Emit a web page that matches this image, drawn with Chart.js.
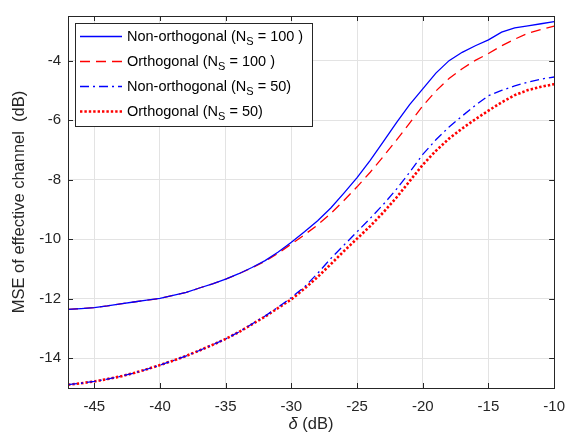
<!DOCTYPE html>
<html>
<head>
<meta charset="utf-8">
<script src="https://cdn.jsdelivr.net/npm/chart.js@4.4.1/dist/chart.umd.min.js"></script>
<style>
  html, body { margin: 0; padding: 0; background: #fff; }
  #wrap { width: 575px; height: 434px; }
</style>
</head>
<body>
<div id="wrap"><canvas id="mseChart" width="575" height="434"></canvas></div>
<script>
// delta (dB) sample points
const deltaDb = [-47, -46, -45, -44, -43, -42, -41, -40, -39, -38, -37, -36, -35, -34, -33, -32, -31, -30, -29,
                 -28, -27, -26, -25, -24, -23, -22, -21, -20, -19, -18, -17, -16, -15, -14, -13, -12, -11, -10];

const nonOrth100 = [-12.36, -12.33, -12.30, -12.24, -12.17, -12.11, -12.05, -11.99, -11.89, -11.79, -11.64, -11.50,
                    -11.34, -11.16, -10.95, -10.72, -10.43, -10.10, -9.75, -9.38, -8.95, -8.45, -7.93, -7.35,
                    -6.72, -6.08, -5.48, -4.95, -4.42, -4.00, -3.72, -3.50, -3.30, -3.04, -2.90, -2.83, -2.76, -2.69];

const orth100 = [-12.36, -12.33, -12.30, -12.24, -12.17, -12.11, -12.05, -11.99, -11.89, -11.79, -11.64, -11.50,
                 -11.34, -11.16, -10.96, -10.74, -10.47, -10.16, -9.85, -9.52, -9.14, -8.70, -8.24, -7.75,
                 -7.22, -6.67, -6.10, -5.52, -5.02, -4.60, -4.27, -3.99, -3.76, -3.50, -3.28, -3.08, -2.95, -2.84];

const nonOrth50 = [-14.89, -14.84, -14.78, -14.70, -14.61, -14.50, -14.37, -14.23, -14.08, -13.92, -13.74, -13.55,
                   -13.35, -13.12, -12.85, -12.58, -12.28, -11.96, -11.60, -11.15, -10.65, -10.20, -9.75, -9.30,
                   -8.83, -8.32, -7.75, -7.15, -6.66, -6.23, -5.86, -5.50, -5.18, -5.00, -4.85, -4.72, -4.62, -4.55];

const orth50 = [-14.89, -14.84, -14.78, -14.70, -14.61, -14.50, -14.37, -14.23, -14.08, -13.92, -13.74, -13.55,
                -13.35, -13.12, -12.86, -12.60, -12.31, -12.02, -11.66, -11.27, -10.84, -10.40, -9.98, -9.56,
                -9.10, -8.60, -8.05, -7.50, -7.03, -6.62, -6.28, -5.97, -5.68, -5.40, -5.16, -4.99, -4.88, -4.79];

const seriesLabels = ['Non-orthogonal (N_S = 100 )', 'Orthogonal (N_S = 100 )',
                      'Non-orthogonal (N_S = 50)', 'Orthogonal (N_S = 50)'];

const xTicks = [-45, -40, -35, -30, -25, -20, -15, -10];
const yTicks = [-14, -12, -10, -8, -6, -4];

const AXIS_COLOR = '#262626';
const FONT = '"Liberation Sans", Arial, Helvetica, sans-serif';

function toPoints(ys) {
    return deltaDb.map((x, i) => ({ x: x, y: ys[i] }));
}

// box, inward ticks, x title with italic delta, legend with subscripts
const matlabLook = {
    id: 'matlabLook',
    afterDraw(chart) {
        const ctx = chart.ctx;
        const { left, right, top, bottom } = chart.chartArea;
        const xs = chart.scales.x, ys = chart.scales.y;
        ctx.save();
        ctx.strokeStyle = AXIS_COLOR;
        ctx.lineWidth = 1;
        ctx.strokeRect(Math.round(left) + 0.5, Math.round(top) + 0.5,
                       Math.round(right - left), Math.round(bottom - top));
        const tl = 5;
        ctx.beginPath();
        xTicks.forEach(t => {
            const px = Math.round(xs.getPixelForValue(t)) + 0.5;
            ctx.moveTo(px, bottom); ctx.lineTo(px, bottom - tl);
            ctx.moveTo(px, top); ctx.lineTo(px, top + tl);
        });
        yTicks.forEach(t => {
            const py = Math.round(ys.getPixelForValue(t)) + 0.5;
            ctx.moveTo(left, py); ctx.lineTo(left + tl, py);
            ctx.moveTo(right, py); ctx.lineTo(right - tl, py);
        });
        ctx.stroke();

        // x axis title
        ctx.fillStyle = AXIS_COLOR;
        ctx.textBaseline = 'middle';
        ctx.textAlign = 'left';
        const cx = (left + right) / 2, ty = 424;
        ctx.font = 'italic 16.5px ' + FONT;
        const w1 = ctx.measureText('\u03b4').width;
        ctx.font = '16.5px ' + FONT;
        const w2 = ctx.measureText(' (dB)').width;
        const sx = cx - (w1 + w2) / 2;
        ctx.font = 'italic 16.5px ' + FONT;
        ctx.fillText('\u03b4', sx, ty);
        ctx.font = '16.5px ' + FONT;
        ctx.fillText(' (dB)', sx + w1, ty);

        // legend
        const lx = 75.5, ly = 23.5, lw = 237, lh = 103;
        ctx.fillStyle = '#fff';
        ctx.fillRect(lx, ly, lw, lh);
        ctx.strokeStyle = AXIS_COLOR;
        ctx.strokeRect(lx, ly, lw, lh);
        const rowY = [36.5, 61.5, 86.5, 111.5];
        chart.data.datasets.forEach((ds, i) => {
            const y = rowY[i];
            ctx.save();
            ctx.strokeStyle = ds.borderColor;
            ctx.lineWidth = ds.borderWidth;
            ctx.setLineDash(ds.borderDash || []);
            ctx.beginPath();
            ctx.moveTo(80, y); ctx.lineTo(122, y);
            ctx.stroke();
            ctx.restore();
            const parts = seriesLabels[i].split('_S');
            ctx.fillStyle = '#000';
            ctx.font = '14.5px ' + FONT;
            ctx.fillText(parts[0], 127, y);
            let px = 127 + ctx.measureText(parts[0]).width;
            ctx.font = '11px ' + FONT;
            ctx.fillText('S', px, y + 5);
            px += ctx.measureText('S').width;
            ctx.font = '14.5px ' + FONT;
            ctx.fillText(parts[1], px, y);
        });
        ctx.restore();
    }
};

new Chart(document.getElementById('mseChart'), {
    type: 'line',
    data: {
        datasets: [
            { label: seriesLabels[0], data: toPoints(nonOrth100), borderColor: '#0000ff', borderWidth: 1.3, borderDash: [] },
            { label: seriesLabels[1], data: toPoints(orth100), borderColor: '#ff0000', borderWidth: 1.3, borderDash: [10, 6] },
            { label: seriesLabels[2], data: toPoints(nonOrth50), borderColor: '#0000ff', borderWidth: 1.3, borderDash: [9, 4, 2, 4] },
            { label: seriesLabels[3], data: toPoints(orth50), borderColor: '#ff0000', borderWidth: 2.6, borderDash: [2.4, 2] }
        ]
    },
    options: {
        responsive: false,
        animation: false,
        elements: { point: { radius: 0 }, line: { tension: 0, fill: false } },
        layout: { padding: { left: 0, top: 9.5, right: 19, bottom: 0 } },
        plugins: { legend: { display: false }, tooltip: { enabled: false } },
        scales: {
            x: {
                type: 'linear',
                min: -47, max: -10,
                afterBuildTicks: (s) => { s.ticks = xTicks.map(v => ({ value: v })); },
                afterFit: (s) => { s.height = 46; },
                grid: { color: '#e3e3e3', drawTicks: false },
                border: { display: false },
                ticks: { color: AXIS_COLOR, font: { family: FONT, size: 15 }, padding: 10, maxRotation: 0 }
            },
            y: {
                type: 'linear',
                min: -15, max: -2.5,
                afterBuildTicks: (s) => { s.ticks = yTicks.map(v => ({ value: v })); },
                afterFit: (s) => { s.width = 68; },
                grid: { color: '#e3e3e3', drawTicks: false },
                border: { display: false },
                ticks: { color: AXIS_COLOR, font: { family: FONT, size: 15 }, padding: 7 },
                title: {
                    display: true,
                    text: 'MSE of effective channel  (dB)',
                    color: AXIS_COLOR,
                    font: { family: FONT, size: 16.5 },
                    padding: { top: 10, bottom: 0 }
                }
            }
        }
    },
    plugins: [matlabLook]
});
</script>
</body>
</html>
